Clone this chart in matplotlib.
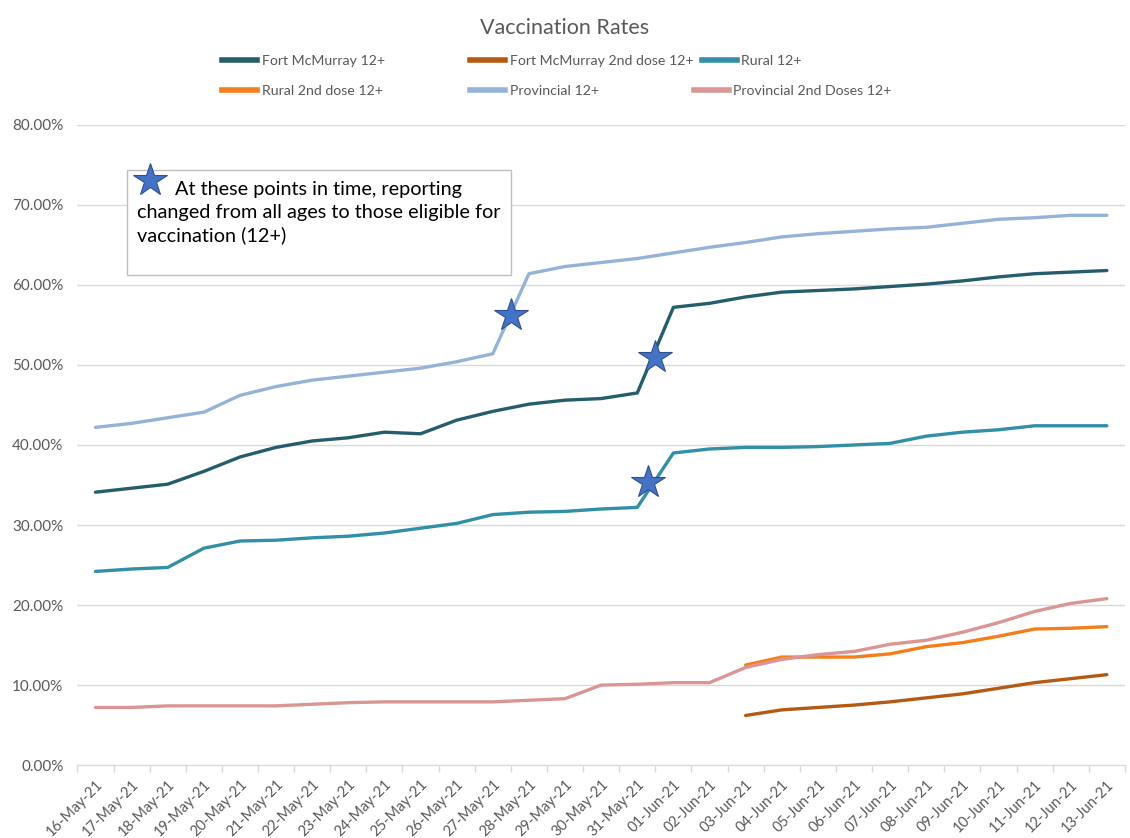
import matplotlib
matplotlib.use('Agg')

import matplotlib.pyplot as plt
import numpy as np
from matplotlib.lines import Line2D
from matplotlib.ticker import FuncFormatter

plt.rcParams['font.family'] = ['Lato', 'DejaVu Sans']

nan = np.nan

dates = ['16-May-21', '17-May-21', '18-May-21', '19-May-21', '20-May-21', '21-May-21',
         '22-May-21', '23-May-21', '24-May-21', '25-May-21', '26-May-21', '27-May-21',
         '28-May-21', '29-May-21', '30-May-21', '31-May-21', '01-Jun-21', '02-Jun-21',
         '03-Jun-21', '04-Jun-21', '05-Jun-21', '06-Jun-21', '07-Jun-21', '08-Jun-21',
         '09-Jun-21', '10-Jun-21', '11-Jun-21', '12-Jun-21', '13-Jun-21']

# values in percent
fort_mcmurray = [34.1, 34.6, 35.1, 36.7, 38.5, 39.7, 40.5, 40.9, 41.6, 41.4, 43.1, 44.2,
                 45.1, 45.6, 45.8, 46.5, 57.2, 57.7, 58.5, 59.1, 59.3, 59.5, 59.8, 60.1,
                 60.5, 61.0, 61.4, 61.6, 61.8]
fort_mcmurray_2nd = [nan] * 18 + [6.2, 6.9, 7.2, 7.5, 7.9, 8.4, 8.9, 9.6, 10.3, 10.8, 11.3]
rural = [24.2, 24.5, 24.7, 27.1, 28.0, 28.1, 28.4, 28.6, 29.0, 29.6, 30.2, 31.3,
         31.6, 31.7, 32.0, 32.2, 39.0, 39.5, 39.7, 39.7, 39.8, 40.0, 40.2, 41.1,
         41.6, 41.9, 42.4, 42.4, 42.4]
rural_2nd = [nan] * 18 + [12.5, 13.5, 13.5, 13.5, 13.9, 14.8, 15.3, 16.1, 17.0, 17.1, 17.3]
provincial = [42.2, 42.7, 43.4, 44.1, 46.2, 47.3, 48.1, 48.6, 49.1, 49.6, 50.4, 51.4,
              61.4, 62.3, 62.8, 63.3, 64.0, 64.7, 65.3, 66.0, 66.4, 66.7, 67.0, 67.2,
              67.7, 68.2, 68.4, 68.7, 68.7]
provincial_2nd = [7.2, 7.2, 7.4, 7.4, 7.4, 7.4, 7.6, 7.8, 7.9, 7.9, 7.9, 7.9,
                  8.1, 8.3, 10.0, 10.1, 10.3, 10.3, 12.2, 13.2, 13.8, 14.2, 15.1, 15.6,
                  16.6, 17.8, 19.2, 20.2, 20.8]

series = [
    ('Fort McMurray 12+', fort_mcmurray, '#255E6B'),
    ('Fort McMurray 2nd dose 12+', fort_mcmurray_2nd, '#B55A12'),
    ('Rural 12+', rural, '#3290A6'),
    ('Rural 2nd dose 12+', rural_2nd, '#F57E1A'),
    ('Provincial 12+', provincial, '#95B3D7'),
    ('Provincial 2nd Doses 12+', provincial_2nd, '#DA9694'),
]

# star annotations (category position, percent)
stars = [(11.5, 56.2), (15.5, 51.0), (15.3, 35.4)]

grey = '#595959'
fig = plt.figure(figsize=(11.3, 8.38), dpi=100)
ax = fig.add_axes([0.0685, 0.087, 0.927, 0.764])

x = np.arange(len(dates))
handles = []
for name, vals, col in series:
    h, = ax.plot(x, np.array(vals) / 100, color=col, lw=2.4, solid_capstyle='round', label=name)
    handles.append(h)

for sx, sy in stars:
    ax.plot(sx, sy / 100, marker='*', ms=25, color='#4472C4', mec='#2F528F', mew=0.8, zorder=5)

ax.set_xlim(-0.5, len(dates) - 0.5)
ax.set_ylim(0, 0.8)
ax.set_yticks(np.arange(0, 0.81, 0.1))
ax.yaxis.set_major_formatter(FuncFormatter(lambda v, p: f'{v * 100:.2f}%'))
ax.grid(axis='y', color='#D9D9D9', lw=1)
ax.set_axisbelow(True)

ax.set_xticks(x)
ax.set_xticklabels(dates, rotation=45, ha='right', rotation_mode='anchor')
ax.set_xticks(np.arange(-0.5, len(dates)), minor=True)
ax.tick_params(axis='x', which='major', length=0, pad=9, labelsize=10.5, labelcolor=grey)
ax.tick_params(axis='x', which='minor', length=5, color='#D9D9D9', width=1)
ax.tick_params(axis='y', length=0, pad=10, labelsize=11, labelcolor=grey)

for s in ['top', 'right', 'left']:
    ax.spines[s].set_visible(False)
ax.spines['bottom'].set_color('#D9D9D9')

# note box
ax.add_patch(plt.Rectangle((0.0477, 0.766), 0.366, 0.164, transform=ax.transAxes,
                           fill=True, fc='white', ec='#BFBFBF', lw=1, zorder=6))
ax.plot(0.069, 0.914, marker='*', ms=25, color='#4472C4', mec='#2F528F', mew=0.8,
        transform=ax.transAxes, zorder=7, clip_on=False)
note_fs = 14.3
ax.text(0.093, 0.89, 'At these points in time, reporting', transform=ax.transAxes,
        fontsize=note_fs, color='#000000', va='baseline', zorder=7)
ax.text(0.057, 0.854, 'changed from all ages to those eligible for', transform=ax.transAxes,
        fontsize=note_fs, color='#000000', va='baseline', zorder=7)
ax.text(0.057, 0.818, 'vaccination (12+)', transform=ax.transAxes,
        fontsize=note_fs, color='#000000', va='baseline', zorder=7)

fig.text(0.5, 0.979, 'Vaccination Rates', ha='center', va='top', fontsize=15.5, color=grey)

# legend entries, laid out row by row like the original
legend_pos = [(0.1965, 0.927), (0.416, 0.927), (0.621, 0.927),
              (0.1965, 0.892), (0.416, 0.892), (0.614, 0.892)]
for h, (lx, ly) in zip(handles, legend_pos):
    proxy = Line2D([], [], color=h.get_color(), lw=4)
    fig.legend([proxy], [h.get_label()], loc='center left', bbox_to_anchor=(lx, ly),
               frameon=False, fontsize=10.2, labelcolor=grey, handlelength=2.5,
               handletextpad=0.3, borderpad=0, borderaxespad=0)

fig.savefig('out.png', dpi=100)
